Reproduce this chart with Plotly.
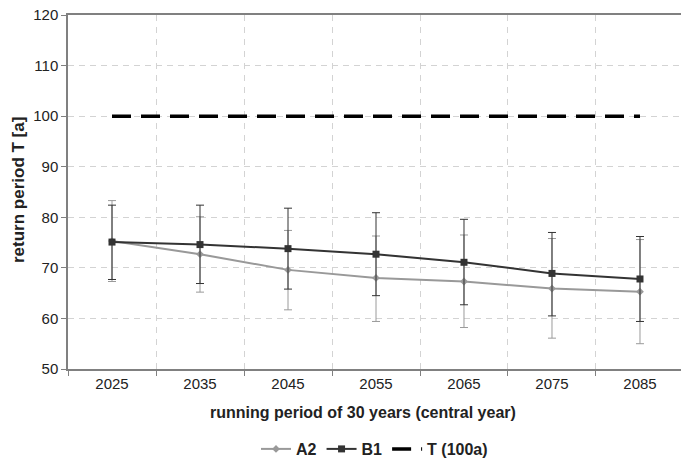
import plotly.graph_objects as go

years = ["2025", "2035", "2045", "2055", "2065", "2075", "2085"]
a2 = [75.3, 72.7, 69.6, 68.0, 67.3, 65.9, 65.3]
a2_hi = [83.3, 80.1, 77.4, 76.3, 76.5, 75.8, 75.6]
a2_lo = [67.3, 65.2, 61.7, 59.4, 58.2, 56.1, 55.0]
b1 = [75.1, 74.6, 73.8, 72.7, 71.1, 68.9, 67.8]
b1_hi = [82.4, 82.4, 81.8, 80.9, 79.6, 77.0, 76.2]
b1_lo = [67.7, 66.9, 65.8, 64.5, 62.7, 60.5, 59.4]
t_level = [100] * len(years)

FONT = "Liberation Sans, Arial, sans-serif"

fig = go.Figure()
fig.add_trace(go.Scatter(
    x=years, y=a2, name="A2", mode="lines+markers",
    line=dict(color="#999999", width=2),
    marker=dict(symbol="diamond", size=6, color="#999999"),
    error_y=dict(type="data", symmetric=False,
                 array=[h - v for h, v in zip(a2_hi, a2)],
                 arrayminus=[v - l for v, l in zip(a2, a2_lo)],
                 color="#9a9a9a", thickness=1, width=4),
))
fig.add_trace(go.Scatter(
    x=years, y=b1, name="B1", mode="lines+markers",
    line=dict(color="#333333", width=2),
    marker=dict(symbol="square", size=7, color="#333333"),
    error_y=dict(type="data", symmetric=False,
                 array=[h - v for h, v in zip(b1_hi, b1)],
                 arrayminus=[v - l for v, l in zip(b1, b1_lo)],
                 color="#333333", thickness=1, width=4),
))
fig.add_trace(go.Scatter(
    x=years, y=t_level, name="T (100a)", mode="lines",
    line=dict(color="#000000", width=3.5, dash="19px,10px"),
))

fig.update_layout(
    width=681, height=459,
    margin=dict(l=68, r=0, t=15, b=90, autoexpand=False),
    paper_bgcolor="white", plot_bgcolor="white",
    font=dict(family=FONT, color="#222222", size=15),
    showlegend=True,
    legend=dict(orientation="h", x=0.5, xanchor="center",
                yref="container", y=1 - 449 / 459, yanchor="middle",
                font=dict(family=FONT, size=16, color="#222222", weight="bold"),
                bgcolor="rgba(0,0,0,0)", itemwidth=30, tracegroupgap=0),
    xaxis=dict(
        type="category", range=[-0.5, 6.466],
        tickson="boundaries", ticks="outside", ticklen=5, tickcolor="#808080",
        showline=True, linecolor="#808080", linewidth=1.5, mirror=True,
        showgrid=True, gridcolor="#d3d3d3", griddash="6px,6px", gridwidth=1,
        tickfont=dict(family=FONT, size=15, color="#222222"),
        zeroline=False, automargin=False,
    ),
    yaxis=dict(
        range=[50, 120], dtick=10, tick0=50,
        ticks="outside", ticklen=5, tickcolor="#808080",
        showline=True, linecolor="#808080", linewidth=1.5,
        showgrid=True, gridcolor="#d3d3d3", griddash="6px,5px", gridwidth=1,
        tickfont=dict(family=FONT, size=15, color="#222222"),
        zeroline=False, automargin=False,
    ),
    annotations=[
        dict(text="<b>running period of 30 years (central year)</b>",
             xref="paper", yref="paper", x=(363 - 68) / 613, y=-(412 - 369) / 354,
             xanchor="center", yanchor="middle", showarrow=False,
             font=dict(family=FONT, size=16, color="#222222")),
        dict(text="<b>return period T [a]</b>",
             xref="paper", yref="paper", x=-(68 - 18) / 613, y=(369 - 190) / 354,
             xanchor="center", yanchor="middle", showarrow=False, textangle=-90,
             font=dict(family=FONT, size=17, color="#222222")),
    ],
)

fig.write_html("out.html")
